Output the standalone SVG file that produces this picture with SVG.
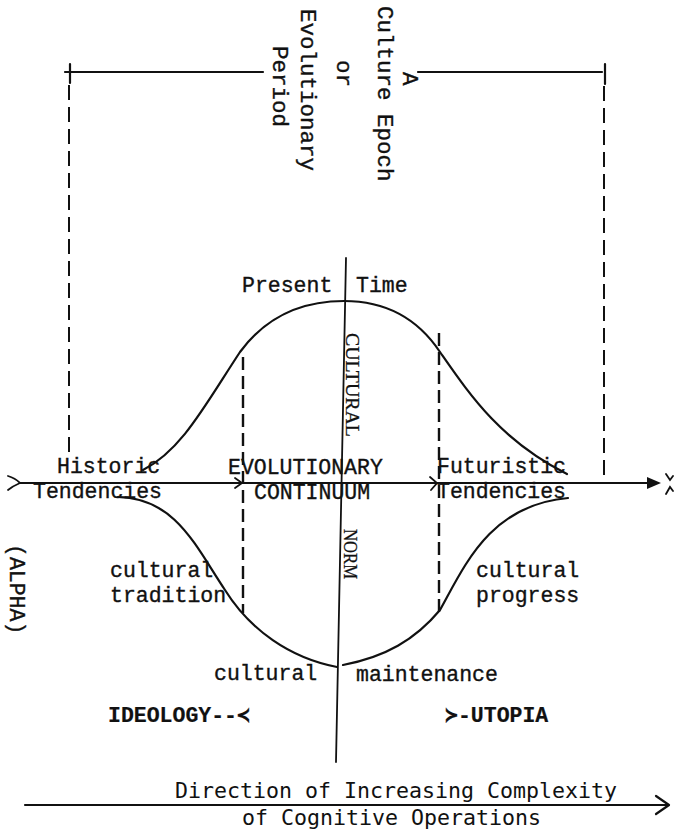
<svg xmlns="http://www.w3.org/2000/svg" width="674" height="830" viewBox="0 0 674 830">
<style>
.t{font-family:"Liberation Mono","DejaVu Sans Mono",monospace;font-size:21.5px;fill:#111;stroke:#111;stroke-width:0.35}
.tp{font-size:22.5px}
.b{font-weight:bold;stroke-width:0.2}
.s{font-family:"Liberation Serif","DejaVu Serif",serif;font-size:18.5px;fill:#111;stroke:#111;stroke-width:0.3}
.g{font-family:"DejaVu Sans Mono","Liberation Mono",monospace;font-size:21.6px;fill:#111}
.ln{fill:none;stroke:#111;stroke-width:2.2;stroke-linecap:round;stroke-linejoin:round}
.th{fill:none;stroke:#111;stroke-width:1.8;stroke-linecap:round}
.d1{fill:none;stroke:#111;stroke-width:2.4;stroke-dasharray:13 6}
.d2{fill:none;stroke:#111;stroke-width:2;stroke-dasharray:15 7}
</style>
<rect width="674" height="830" fill="#fff"/>
<g id="connectors">
  <path class="ln" d="M65,72 L263,72 M70,64 L70,83"/>
  <path class="ln" d="M418,72 L602,72 M605,64 L605,84"/>
  <path class="d2" d="M69,85 L69,452"/>
  <path class="d2" d="M604,86 L604,476"/>
  <path class="d1" d="M243,357 L243,613"/>
  <path class="d1" d="M439,333 L439,613"/>
  <path class="th" d="M346,258 L336,762"/>
  <path class="ln" d="M143,470 C182,450 205,405 240,352 C265,318 300,301 344,301 C390,301 420,322 440,352 C470,395 500,440 567,474"/>
  <path class="ln" d="M118,497 C175,498 195,545 225,590 C250,630 290,658 337,667"/>
  <path class="ln" d="M343,665 C385,657 415,640 440,610 C465,565 490,505 568,498"/>
  <path class="ln" d="M20,483 L655,483"/>
  <path fill="#111" d="M647,477 L661,483 L647,489 Z"/>
  <path class="th" d="M8,476 Q15,478 20,483 M8,490 Q13,486 20,483"/>
  <path class="th" d="M666,474 L670,480 L673,476 M666,494 L670,487 L673,491"/>
  <path class="th" d="M235,478 L242,483 L235,488"/>
  <path class="th" d="M430,477 L437,483 L431,490"/>
  <path class="ln" d="M25,805 L667,805"/>
  <path class="ln" d="M656,796 L669,805 L656,814"/>
</g>
<g id="epoch-label">
  <text class="t tp" transform="translate(403,72) rotate(90)">A</text>
  <text class="t tp" transform="translate(378,6) rotate(90)">Culture Epoch</text>
  <text class="t tp" transform="translate(337,60) rotate(90)">or</text>
  <text class="t tp" transform="translate(301,9) rotate(90)">Evolutionary</text>
  <text class="t tp" transform="translate(273,46) rotate(90)">Period</text>
</g>
<g id="present-time">
  <text class="t" x="242" y="292">Present</text>
  <text class="t" x="356" y="292">Time</text>
</g>
<g id="cultural-norm">
  <text class="s" transform="translate(346,333) rotate(90)" textLength="104" lengthAdjust="spacingAndGlyphs">CULTURAL</text>
  <text class="s" transform="translate(344,529) rotate(90)" textLength="50" lengthAdjust="spacingAndGlyphs">NORM</text>
</g>
<g id="historic">
  <text class="t" x="57" y="473">Historic</text>
  <text class="t" x="33" y="498">Tendencies</text>
</g>
<g id="continuum">
  <text class="t" x="228" y="474">EVOLUTIONARY</text>
  <text class="t" x="254" y="499">CONTINUUM</text>
</g>
<g id="futuristic">
  <text class="t" x="437" y="473">Futuristic</text>
  <text class="t" x="437" y="498">Tendencies</text>
</g>
<g id="alpha">
  <text class="t" transform="translate(10,544) rotate(90)">(ALPHA)</text>
</g>
<g id="tradition">
  <text class="t" x="110" y="577">cultural</text>
  <text class="t" x="110" y="602">tradition</text>
</g>
<g id="progress">
  <text class="t" x="476" y="577">cultural</text>
  <text class="t" x="476" y="602">progress</text>
</g>
<g id="maintenance">
  <text class="t" x="214" y="680">cultural</text>
  <text class="t" x="356" y="681">maintenance</text>
</g>
<g id="ideology">
  <text class="t b" x="108" y="722">IDEOLOGY--≺</text>
</g>
<g id="utopia">
  <text class="t b" x="445" y="722">≻-UTOPIA</text>
</g>
<g id="direction">
  <text class="g" x="175" y="798">Direction of Increasing Complexity</text>
  <text class="g" x="242" y="825">of Cognitive Operations</text>
</g>
</svg>
